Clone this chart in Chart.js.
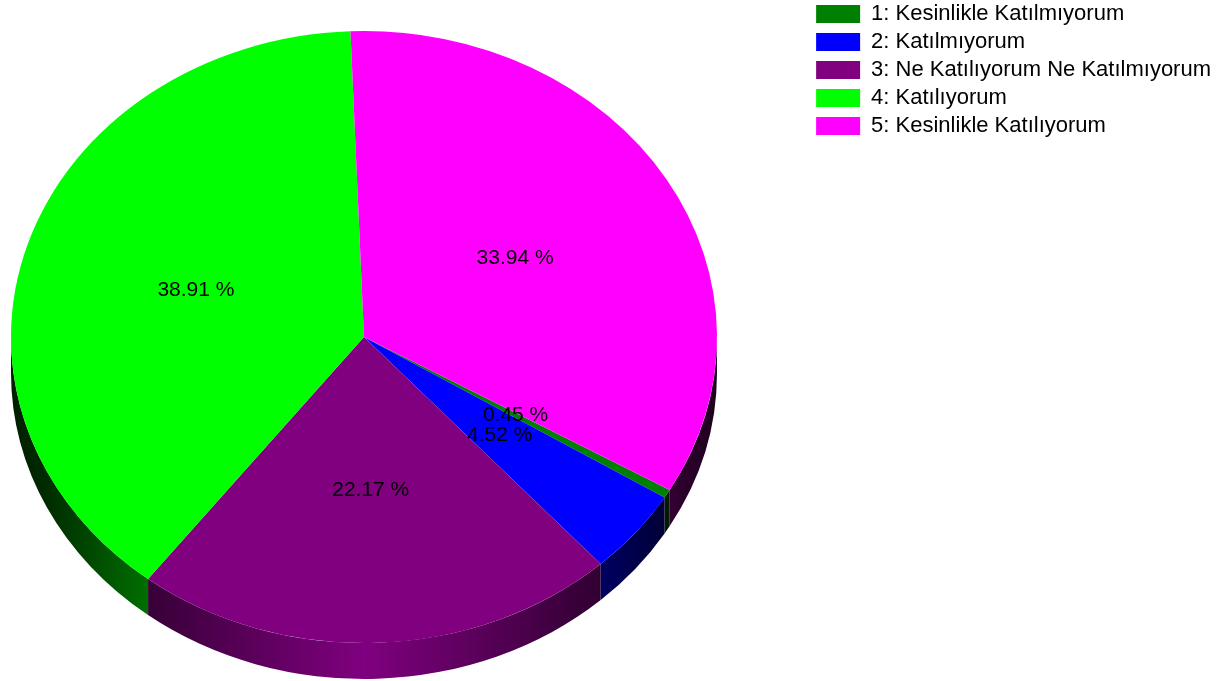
<!DOCTYPE html>
<html>
<head>
<meta charset="utf-8">
<script src="https://cdn.jsdelivr.net/npm/chart.js@4.4.1/dist/chart.umd.min.js"></script>
<style>
  html, body { margin: 0; padding: 0; background: #fff; }
  #wrap { width: 1216px; height: 681px; }
</style>
</head>
<body>
<div id="wrap"><canvas id="pieChart" width="1216" height="681"></canvas></div>
<script>
const categories = [
  '1: Kesinlikle Katılmıyorum',
  '2: Katılmıyorum',
  '3: Ne Katılıyorum Ne Katılmıyorum',
  '4: Katılıyorum',
  '5: Kesinlikle Katılıyorum'
];
const percentages = [0.45, 4.52, 22.17, 38.91, 33.94];
const sliceColors = ['#008000', '#0000ff', '#800080', '#00ff00', '#ff00ff'];

// ellipse the flat pie gets squashed into, and the rim height
const tilt = { cx: 364, cy: 337, rx: 353, ry: 306, depth: 36 };

function shade(hex, f) {
  const n = parseInt(hex.slice(1), 16);
  const r = Math.round(((n >> 16) & 255) * f);
  const g = Math.round(((n >> 8) & 255) * f);
  const b = Math.round((n & 255) * f);
  return `rgb(${r},${g},${b})`;
}

const rimPlugin = {
  id: 'rim',
  beforeDatasetsDraw(chart) {
    const ctx = chart.ctx;
    const arcs = chart.getDatasetMeta(0).data;
    const TWO_PI = Math.PI * 2;

    // side wall: only the front half (angles 0..PI) shows
    arcs.forEach((arc, i) => {
      const grad = ctx.createLinearGradient(tilt.cx - tilt.rx, 0, tilt.cx + tilt.rx, 0);
      for (let s = 0; s <= 20; s++) {
        const u = Math.abs(s / 10 - 1);
        grad.addColorStop(s / 20, shade(sliceColors[i], Math.max(0.12, 1 - 0.92 * u)));
      }
      for (let k = -1; k <= 2; k++) {
        const lo = Math.max(arc.startAngle, TWO_PI * k);
        const hi = Math.min(arc.endAngle, TWO_PI * k + Math.PI);
        if (hi <= lo) continue;
        ctx.beginPath();
        ctx.ellipse(tilt.cx, tilt.cy, tilt.rx, tilt.ry, 0, lo, hi);
        ctx.ellipse(tilt.cx, tilt.cy + tilt.depth, tilt.rx, tilt.ry, 0, hi, lo, true);
        ctx.closePath();
        ctx.fillStyle = grad;
        ctx.fill();
      }
    });

    // squash the round pie into the ellipse for the top faces
    const a = arcs[0];
    ctx.save();
    ctx.translate(tilt.cx, tilt.cy);
    ctx.scale(tilt.rx / a.outerRadius, tilt.ry / a.outerRadius);
    ctx.translate(-a.x, -a.y);
  },
  afterDatasetsDraw(chart) {
    const ctx = chart.ctx;
    ctx.restore();

    // percentage labels half way out along each slice
    const arcs = chart.getDatasetMeta(0).data;
    ctx.save();
    ctx.font = '21px Arial, "Liberation Sans", sans-serif';
    ctx.fillStyle = '#000';
    ctx.textAlign = 'center';
    ctx.textBaseline = 'middle';
    arcs.forEach((arc, i) => {
      const mid = (arc.startAngle + arc.endAngle) / 2;
      const x = tilt.cx + tilt.rx * 0.5 * Math.cos(mid);
      const y = tilt.cy + tilt.ry * 0.5 * Math.sin(mid);
      ctx.fillText(percentages[i].toFixed(2) + ' %', x, y);
    });
    ctx.restore();
  }
};

new Chart(document.getElementById('pieChart'), {
  type: 'pie',
  data: {
    labels: categories,
    datasets: [{
      data: percentages,
      backgroundColor: sliceColors,
      borderWidth: 0
    }]
  },
  options: {
    responsive: false,
    animation: false,
    rotation: 120,
    layout: { padding: { top: -3, right: -5 } },
    plugins: {
      tooltip: { enabled: false },
      legend: {
        position: 'right',
        align: 'start',
        labels: {
          boxWidth: 44,
          boxHeight: 18,
          padding: 6,
          color: '#000',
          font: { family: 'Arial, "Liberation Sans", sans-serif', size: 22 }
        }
      }
    }
  },
  plugins: [rimPlugin]
});
</script>
</body>
</html>
